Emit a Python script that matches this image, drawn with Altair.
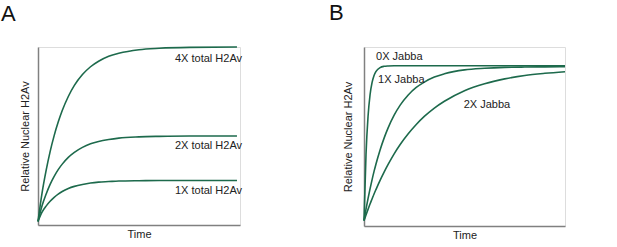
import altair as alt
import pandas as pd

FONT = "Liberation Sans"
LINE_COLOR = "#1d6a4c"
AXIS_COLOR = "#808080"
TEXT_COLOR = "#222222"

# ---- Panel A data ----
time_a = [0, 2, 4, 6, 8, 10, 12, 15, 18, 22, 26, 30, 35, 40, 50, 60, 75, 98.5]
a_4x = [2, 17.9, 30.5, 41.2, 50.2, 57.8, 64.3, 72.2, 78.4, 84.5, 88.9, 92.0, 94.8, 96.5, 98.5, 99.3, 99.8, 100]
a_2x = [2, 10.8, 17.3, 22.8, 27.3, 31.1, 34.2, 38.0, 40.8, 43.6, 45.6, 46.9, 48.0, 48.8, 49.5, 49.8, 50, 50]
a_1x = [2, 7.2, 10.6, 13.3, 15.5, 17.3, 18.8, 20.5, 21.7, 22.8, 23.6, 24.1, 24.4, 24.7, 24.9, 25, 25, 25]
labels_a = ["4X total H2Av", "2X total H2Av", "1X total H2Av"]
label_a_x = [67.8, 67.8, 67.8]
label_a_y = [91.4, 42.5, 17.2]

# ---- Panel B data ----
time_b = [0, 1, 2, 3, 4, 5, 6, 8, 10, 12, 15, 18, 22, 26, 30, 35, 40, 50, 60, 70, 80, 90, 100]
b_0x = [3, 39.9, 61.0, 73.2, 80.1, 84.1, 86.4, 88.5, 89.2, 89.4, 89.5, 89.5, 89.5, 89.5, 89.5,
        89.5, 89.5, 89.5, 89.5, 89.5, 89.5, 89.5, 89.5]
b_1x = [3, 9.4, 15.3, 20.7, 25.8, 30.5, 34.8, 42.5, 49.1, 54.8, 61.9, 67.5, 73.2, 77.4, 80.4,
        83.2, 85.0, 87.2, 88.1, 88.6, 88.8, 88.9, 89.0]
b_2x = [3, 6.2, 9.3, 12.3, 15.1, 17.9, 20.5, 25.5, 30.1, 34.4, 40.3, 45.5, 51.5, 56.7, 61.2,
        65.9, 69.7, 75.6, 79.5, 82.2, 84.1, 85.3, 86.2]
labels_b = ["0X Jabba", "1X Jabba", "2X Jabba"]
label_b_x = [6.0, 7.0, 49.6]
label_b_y = [92.6, 79.9, 66.1]


def long_df(times, series):
    rows = []
    for name, vals in series.items():
        for t, v in zip(times, vals):
            rows.append({"t": t, "v": v, "series": name})
    return pd.DataFrame(rows)


df_a = long_df(time_a, {"4X": a_4x, "2X": a_2x, "1X": a_1x})
df_b = long_df(time_b, {"0X": b_0x, "1X": b_1x, "2X": b_2x})
lab_a = pd.DataFrame({"t": label_a_x, "v": label_a_y, "label": labels_a})
lab_b = pd.DataFrame({"t": label_b_x, "v": label_b_y, "label": labels_b})


def panel(df, lab, letter, title_offset, title_dx, w, h, ypad):
    x_enc = alt.X(
        "t:Q",
        scale=alt.Scale(domain=[0, 100], nice=False, zero=False),
        axis=alt.Axis(title="Time", labels=False, ticks=False, grid=False,
                      domainColor=AXIS_COLOR, domainWidth=1.5, titlePadding=3,
                      titleFont=FONT, titleFontSize=11, titleFontWeight="normal",
                      titleColor=TEXT_COLOR),
    )
    y_enc = alt.Y(
        "v:Q",
        scale=alt.Scale(domain=[0, 100], nice=False, zero=False),
        axis=alt.Axis(title="Relative Nuclear H2Av", labels=False, ticks=False, grid=False,
                      domainColor=AXIS_COLOR, domainWidth=1.5, titlePadding=ypad,
                      titleFont=FONT, titleFontSize=11, titleFontWeight="normal",
                      titleColor=TEXT_COLOR),
    )
    lines = alt.Chart(df).mark_line(color=LINE_COLOR, strokeWidth=1.6,
                                    interpolate="monotone").encode(
        x=x_enc, y=y_enc, detail="series:N")
    texts = alt.Chart(lab).mark_text(align="left", baseline="alphabetic", font=FONT,
                                     fontSize=11, color=TEXT_COLOR).encode(
        x=alt.X("t:Q"), y=alt.Y("v:Q"), text="label:N")
    return alt.layer(lines, texts).properties(
        width=w, height=h,
        title=alt.TitleParams(text=letter, anchor="start", frame="group", font=FONT,
                              fontSize=22, fontWeight="normal", color="#111111",
                              baseline="alphabetic", offset=title_offset, dx=title_dx),
    )


pa = panel(df_a, lab_a, "A", 1, -37, 202, 178, 8)
pb = panel(df_b, lab_b, "B", 5, -35, 201, 179, 11)

chart = alt.hconcat(pa, pb, spacing=85).properties(
    padding={"left": 0, "top": 1, "right": 5, "bottom": 2}
).configure_view(stroke="transparent").configure(background="white")

chart.save("out.html", embed_options={"renderer": "svg", "actions": False})
